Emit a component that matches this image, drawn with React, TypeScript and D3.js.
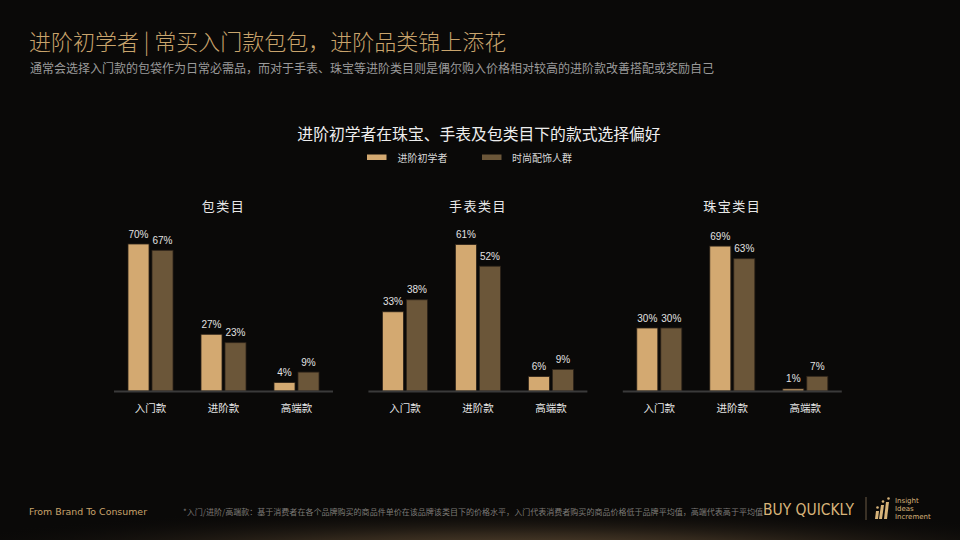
import React from "react";
import * as d3 from "d3";

const panels = ["包类目", "手表类目", "珠宝类目"];
const categories = ["入门款", "进阶款", "高端款"];
const seriesNames = ["进阶初学者", "时尚配饰人群"];
// values[panel][category]
const beginnerValues = [
  [70, 27, 4],
  [33, 61, 6],
  [30, 69, 1],
];
const fashionValues = [
  [67, 23, 9],
  [38, 52, 9],
  [30, 63, 7],
];
const axisMax = [80, 70, 80];

const W = 960;
const H = 540;
const COLORS = ["#d3a971", "#6b5639"];
const CJK = "'Noto Sans CJK SC', 'Noto Sans', sans-serif";
const NUM = "'Liberation Sans', Arial, 'Noto Sans CJK SC', sans-serif";

function Panel({ idx }: { idx: number }) {
  const x0Start = 114 + idx * 254.4;
  const panelW = 219;
  const baseline = 391;
  const plotH = 168;
  const x0 = d3.scaleBand<string>().domain(categories).range([x0Start, x0Start + panelW]).padding(0);
  const x1 = d3.scaleBand<number>().domain([0, 1]).range([0, 45]).paddingInner(0.125);
  const y = d3.scaleLinear().domain([0, axisMax[idx]]).range([baseline, baseline - plotH]);
  const groupOffset = (x0.bandwidth() - 45) / 2;
  const series = [beginnerValues[idx], fashionValues[idx]];
  return (
    <g>
      <text
        x={x0Start + panelW / 2}
        y={210.5}
        textAnchor="middle"
        fill="#e8e8e8"
        fontSize={13}
        letterSpacing={1.5}
        fontFamily={CJK}
      >
        {panels[idx]}
      </text>
      {categories.map((c, ci) => (
        <g key={c}>
          {series.map((vals, si) => {
            const bx = (x0(c) as number) + groupOffset + (x1(si) as number);
            const by = y(vals[ci]);
            return (
              <g key={si}>
                <rect
                  x={bx}
                  y={by}
                  width={x1.bandwidth()}
                  height={baseline - by}
                  fill={COLORS[si]}
                  stroke="#2e241a"
                  strokeWidth={0.8}
                />
                <text
                  x={bx + x1.bandwidth() / 2}
                  y={by - 6.5}
                  textAnchor="middle"
                  fill="#e2e2e2"
                  fontSize={10}
                  fontFamily={NUM}
                >
                  {vals[ci]}%
                </text>
              </g>
            );
          })}
          <text
            x={(x0(c) as number) + x0.bandwidth() / 2}
            y={411.5}
            textAnchor="middle"
            fill="#e6e6e6"
            fontSize={10.5}
            fontFamily={CJK}
          >
            {c}
          </text>
        </g>
      ))}
      <line x1={x0Start} x2={x0Start + panelW} y1={baseline + 0.5} y2={baseline + 0.5} stroke="#3a3a3a" strokeWidth={2} />
    </g>
  );
}

export default function App() {
  return (
    <svg
      width={W}
      height={H}
      viewBox={`0 0 ${W} ${H}`}
      style={{ position: "absolute", left: 0, top: 0, display: "block" }}
    >
      <defs>
        <radialGradient id="footGlow" cx="0.55" cy="1.2" r="0.65">
          <stop offset="0" stopColor="#6a543a" stopOpacity={1} />
          <stop offset="0.45" stopColor="#3a2e20" stopOpacity={0.8} />
          <stop offset="1" stopColor="#0a0908" stopOpacity={0} />
        </radialGradient>
        <linearGradient id="footFade" x1="0" y1="0" x2="0" y2="1">
          <stop offset="0" stopColor="#0a0908" stopOpacity={1} />
          <stop offset="1" stopColor="#0a0908" stopOpacity={0} />
        </linearGradient>
      </defs>
      <rect x={0} y={0} width={W} height={H} fill="#0a0908" />
      <rect x={0} y={468} width={W} height={72} fill="url(#footGlow)" />
      <rect x={0} y={468} width={W} height={20} fill="url(#footFade)" />

      <text x={29} y={50} fill="#c9a46c" fontSize={22} fontWeight={300} fontFamily={CJK}>
        进阶初学者 | 常买入门款包包，进阶品类锦上添花
      </text>
      <text x={30} y={73} fill="#9a9a9a" fontSize={12} fontFamily={CJK}>
        通常会选择入门款的包袋作为日常必需品，而对于手表、珠宝等进阶类目则是偶尔购入价格相对较高的进阶款改善搭配或奖励自己
      </text>

      <text x={479} y={139.5} textAnchor="middle" fill="#eeeeee" fontSize={15.8} fontWeight={400} fontFamily={CJK}>
        进阶初学者在珠宝、手表及包类目下的款式选择偏好
      </text>
      {seriesNames.map((s, i) => (
        <g key={s}>
          <rect x={367 + i * 115} y={154.5} width={19.5} height={5.5} fill={COLORS[i]} />
          <text x={397.5 + i * 114.5} y={162} fill="#d8d8d8" fontSize={10} fontFamily={CJK}>
            {s}
          </text>
        </g>
      ))}

      {panels.map((p, i) => (
        <Panel key={p} idx={i} />
      ))}

      <text x={29} y={515} fill="#c9a46c" fontSize={9} fontFamily="'DejaVu Sans', sans-serif" textLength={118} lengthAdjust="spacingAndGlyphs">
        From Brand To Consumer
      </text>
      <text x={183} y={515} fill="#7d7a76" fontSize={8} fontFamily={CJK} textLength={580} lengthAdjust="spacingAndGlyphs">
        *入门/进阶/高端款：基于消费者在各个品牌购买的商品件单价在该品牌该类目下的价格水平，入门代表消费者购买的商品价格低于品牌平均值，高端代表高于平均值
      </text>
      <text x={763} y={515} fill="#d8b47a" fontSize={16} fontFamily="'DejaVu Sans', sans-serif" textLength={91} lengthAdjust="spacingAndGlyphs">
        BUY QUICKLY
      </text>
      <line x1={866} x2={866} y1={497} y2={520} stroke="#6a5a44" strokeWidth={1} />
      <g fill="#d8b47a">
        <polygon points="876,511 879,511 878,519 875,519" />
        <polygon points="881,505 884,505 882,519 879,519" />
        <polygon points="886,502 889,502 887,519 884,519" />
        <circle cx={877.5} cy={507.5} r={1.3} />
        <circle cx={883} cy={501.5} r={1.3} />
        <circle cx={888.5} cy={498.5} r={1.3} />
      </g>
      <g fill="#d8b47a" fontSize={7} fontFamily="'DejaVu Sans', sans-serif">
        <text x={895} y={503}>Insight</text>
        <text x={895} y={511}>Ideas</text>
        <text x={895} y={519}>Increment</text>
      </g>
    </svg>
  );
}
